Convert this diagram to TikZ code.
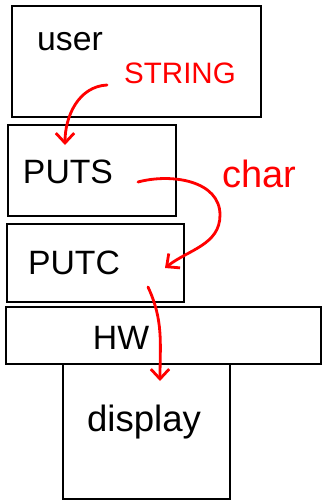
\documentclass[tikz,border=0pt]{standalone}
\usepackage{xcolor}
\usepackage{fontspec}
\setmainfont{Liberation Sans}
\usepackage{tikz}
\usetikzlibrary{arrows.meta}

\begin{document}
\begin{tikzpicture}[x=0.025cm, y=-0.025cm]
  \tikzstyle{layer}=[rectangle, draw=black, line width=2pt, inner sep=0pt]
  \tikzstyle{btxt}=[font=\fontsize{24}{28}\selectfont, inner sep=0pt]
  \tikzstyle{rtxt}=[font=\fontsize{23}{28}\selectfont, text=red, inner sep=0pt]
  \tikzstyle{flow}=[red, line width=2pt, line cap=round,
                    -{Straight Barb[length=7pt, width=13pt, line width=2pt]}]

  \useasboundingbox (0,0) rectangle (323,500);

  % layers
  \node[layer, minimum width=6.225cm, minimum height=2.775cm] at (136.5, 61.5) (user) {};
  \node[layer, minimum width=4.2cm,   minimum height=2.275cm] at ( 92,  170.5) (puts) {};
  \node[layer, minimum width=4.425cm, minimum height=1.95cm]  at ( 95.5,263)   (putc) {};
  \node[layer, minimum width=7.875cm, minimum height=1.425cm] at (163.5,335.5) (hw)   {};
  \node[layer, minimum width=4.175cm, minimum height=3.375cm] at (146.5,431.5) (disp) {};

  \node[btxt] at ( 70, 42) (usertxt) {user};
  \node[btxt] at ( 68,172) (putstxt) {PUTS};
  \node[btxt] at ( 74,263) (putctxt) {PUTC};
  \node[btxt] at (121,338) (hwtxt)   {HW};
  \node[btxt, font=\fontsize{26}{30}\selectfont] at (144,422) (disptxt) {display};

  \node[rtxt, font=\fontsize{21}{26}\selectfont] at (180,73) (strtxt)  {STRING};
  \node[rtxt, font=\fontsize{27}{30}\selectfont] at (259,174) (chartxt) {char};

  % data flow
  \coordinate (s0) at (107, 85);  \coordinate (s1) at ( 65,145);
  \coordinate (c0) at (138,182);  \coordinate (cm) at (220,215);
  \coordinate (c1) at (165,268);
  \coordinate (h0) at (148,287);  \coordinate (h1) at (160,381);

  \draw[flow] (s0) to[out=183, in=90] (s1);
  \draw[flow] (c0) to[out=15, in=90] (cm) to[out=-90, in=38] (c1);
  \draw[flow] (h0) to[out=-65, in=90] (h1);
\end{tikzpicture}
\end{document}
